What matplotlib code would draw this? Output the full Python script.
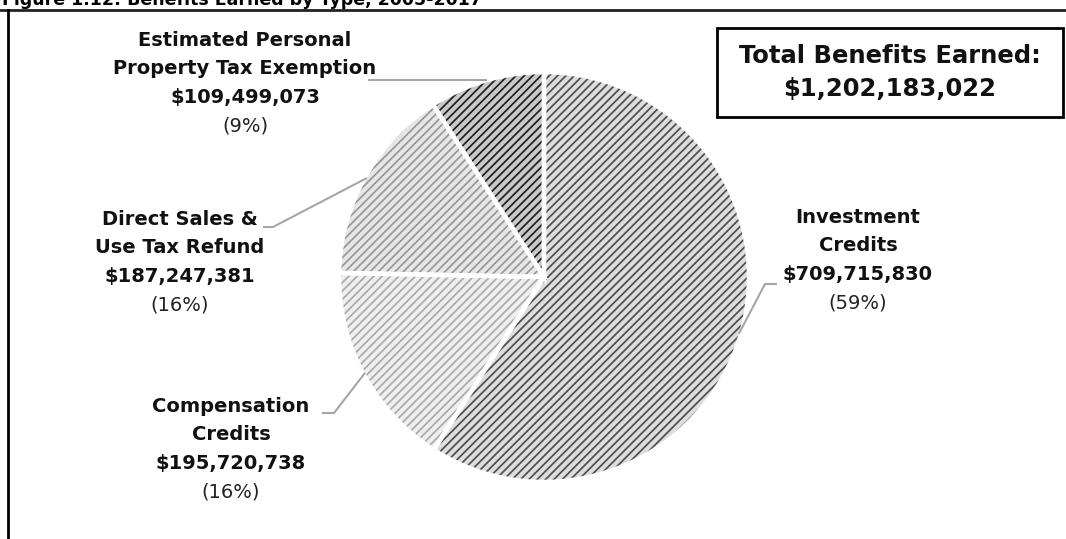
import matplotlib
matplotlib.use("Agg")
import matplotlib.pyplot as plt
from matplotlib.patches import Wedge, Rectangle
from matplotlib.lines import Line2D
import numpy as np

# benefit types, amounts and percent labels
types = ["Investment\nCredits", "Compensation\nCredits",
         "Direct Sales &\nUse Tax Refund", "Estimated Personal\nProperty Tax Exemption"]
amounts = [709715830, 195720738, 187247381, 109499073]
pct_labels = ["(59%)", "(16%)", "(16%)", "(9%)"]
total = 1202183022

face = ["#dddddd", "#eeeeee", "#e6e6e6", "#c8c8c8"]
hatch_col = ["#4a4a4a", "#a8a8a8", "#969696", "#1a1a1a"]

W, H = 1066, 539
fig = plt.figure(figsize=(W / 100, H / 100), dpi=100)
plt.rcParams['hatch.linewidth'] = 1.2

cx, cy, R = 544, 277, 205
ax = fig.add_axes([(cx - R) / W, (H - cy - R) / H, 2 * R / W, 2 * R / H])

def pos(px, py):
    # figure pixel position -> pie axes data units
    return (px - cx) / R, (cy - py) / R

wedges, _ = ax.pie(amounts, startangle=90, counterclock=False, radius=1,
                   wedgeprops=dict(linewidth=0))
ax.set_xlim(-1, 1)
ax.set_ylim(-1, 1)
ax.set_aspect('equal')
ax.axis('off')

for w, fc, hc in zip(wedges, face, hatch_col):
    w.set_facecolor(fc)
    w.set_edgecolor(hc)
    w.set_hatch('////')
    ax.add_patch(Wedge(w.center, w.r, w.theta1, w.theta2, facecolor='none',
                       edgecolor='white', linewidth=3.2))

# label text positions (pixels) and leader elbows
label_xy = [(858, 260), (231, 449), (180, 262), (245, 83)]
elbows = [[(777, 284), (765, 284)],
          [(322, 413), (334, 413)],
          [(263, 227), (273, 227)],
          [(368, 80)]]

lbl_font = "DejaVu Sans"
step = 28.5
for i, (w, name, amt, pct) in enumerate(zip(wedges, types, amounts, pct_labels)):
    lx, ly = label_xy[i]
    lines = name.split("\n") + ["${:,}".format(amt)]
    y0 = ly - step * 1.5
    for j, t in enumerate(lines):
        ax.text(*pos(lx, y0 + j * step), t, ha='center', va='center',
                fontsize=14, fontweight='bold', family=lbl_font, color='#111111')
    ax.text(*pos(lx, y0 + 3 * step), pct, ha='center', va='center',
            fontsize=14, family=lbl_font, color='#222222')
    # leader line to the slice edge
    if i == 3:
        ey = pos(0, elbows[i][0][1])[1]
        end = (-np.sqrt(1 - ey ** 2), ey)
    else:
        mid = np.deg2rad((w.theta1 + w.theta2) / 2)
        end = (np.cos(mid) * 0.99, np.sin(mid) * 0.99)
    xs, ys = zip(*([pos(*p) for p in elbows[i]] + [end]))
    ax.plot(xs, ys, color='#a6a6a6', lw=1.5, clip_on=False, solid_capstyle='butt')

# total box
fig.patches.append(Rectangle((717 / W, 1 - 117 / H), (1063 - 717) / W, (117 - 28) / H,
                             transform=fig.transFigure, fill=False, edgecolor='black',
                             linewidth=2))
fig.text(890 / W, 1 - 56 / H, "Total Benefits Earned:", ha='center', va='center',
         fontsize=17.5, fontweight='bold', family=lbl_font, color='#111111')
fig.text(890 / W, 1 - 89 / H, "${:,}".format(total), ha='center', va='center',
         fontsize=17.5, fontweight='bold', family=lbl_font, color='#111111')

# title (runs off the top edge) and frame lines
fig.text(2 / W, 1 - 5 / H, "Figure 1.12: Benefits Earned by Type, 2005-2017", ha='left',
         va='baseline', fontsize=12.5, fontweight='bold', family=lbl_font)
fig.add_artist(Line2D([0, 1], [1 - 10 / H, 1 - 10 / H], color='#222222', lw=2,
                      transform=fig.transFigure))
fig.add_artist(Line2D([8 / W, 8 / W], [1 - 10 / H, 0], color='black', lw=2,
                      transform=fig.transFigure))

fig.savefig("out.png", dpi=100)
